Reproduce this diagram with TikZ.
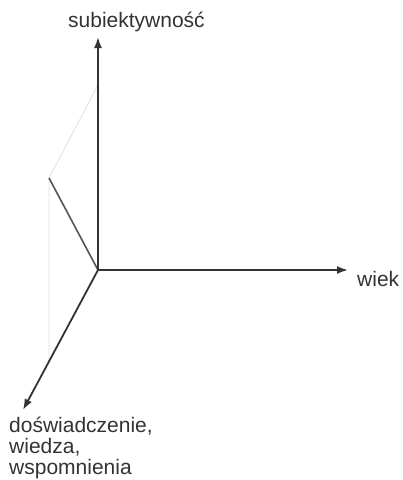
\documentclass[tikz,border=0pt]{standalone}
\usepackage{fontspec}
\setmainfont{Liberation Sans}
\usepackage{xcolor}
\usetikzlibrary{arrows.meta}
\definecolor{axiscolor}{HTML}{333333}
\definecolor{projcolor}{HTML}{555555}
\definecolor{guidecolor}{HTML}{DDDDDD}

\begin{document}
\begin{tikzpicture}[
    x=1pt, y=-1pt,
    axis/.style={draw=axiscolor, line width=1.8pt,
                 -{Latex[length=11pt, width=8pt]}},
    proj/.style={draw=projcolor, line width=1.6pt},
    guide/.style={draw=guidecolor, line width=0.7pt},
    label/.style={inner sep=0pt, text=axiscolor,
                  font=\fontsize{21}{21}\selectfont}
]
\useasboundingbox (0,0) rectangle (403,480);

\coordinate (o) at (98,270);
\coordinate (up) at (98,37);
\coordinate (right) at (348,270);
\coordinate (down) at (23,410);
\coordinate (p) at (49,178);
\coordinate (pup) at (98,85);
\coordinate (pdown) at (49,362);

\node[label, anchor=base west] (subj) at (68,27) {subiektywność};
\node[label, anchor=base west] (wiek) at (357,286) {wiek};
\node[label, anchor=north west, align=left] (dosw) at (9,417)
    {doświadczenie,\\wiedza,\\wspomnienia};

\draw[guide] (pup) -- (p) -- (pdown);
\draw[proj] (p) -- (o);
\draw[axis] (o) -- (up);
\draw[axis] (o) -- (right);
\draw[axis] (o) -- (down);
\end{tikzpicture}
\end{document}
